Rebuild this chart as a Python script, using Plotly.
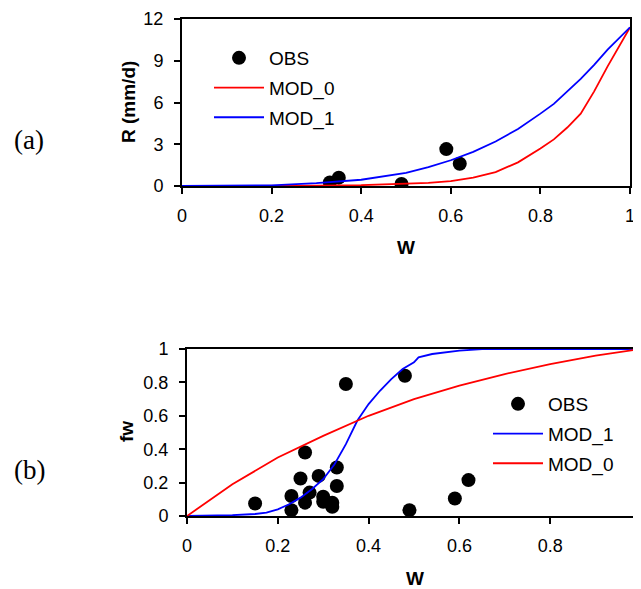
import plotly.graph_objects as go

# ---- data: panel (a) ----
a_obs_w = [0.33, 0.35, 0.49, 0.59, 0.62]
a_obs_r = [0.25, 0.6, 0.15, 2.65, 1.6]
a_mod_w = [0, 0.1, 0.2, 0.3, 0.4, 0.5, 0.55, 0.6, 0.65, 0.7, 0.75, 0.8, 0.83, 0.86, 0.89, 0.92, 0.95, 1.0]
a_mod0_r = [0, 0, 0.005, 0.02, 0.06, 0.15, 0.23, 0.35, 0.6, 1.0, 1.7, 2.7, 3.35, 4.2, 5.2, 6.8, 8.6, 11.4]
a_mod1_r = [0, 0.01, 0.05, 0.2, 0.45, 0.95, 1.35, 1.85, 2.45, 3.2, 4.1, 5.2, 5.9, 6.8, 7.7, 8.7, 9.8, 11.4]

# ---- data: panel (b) ----
b_obs_w = [0.15, 0.23, 0.23, 0.25, 0.26, 0.26, 0.27, 0.29, 0.30, 0.30, 0.32, 0.32, 0.33, 0.33, 0.35, 0.48, 0.49, 0.59, 0.62]
b_obs_f = [0.075, 0.12, 0.035, 0.225, 0.38, 0.08, 0.14, 0.24, 0.115, 0.085, 0.08, 0.055, 0.29, 0.18, 0.79, 0.84, 0.035, 0.105, 0.215]
b_mod1_w = [0, 0.1, 0.15, 0.175, 0.2, 0.225, 0.25, 0.275, 0.3, 0.325, 0.35, 0.375, 0.4, 0.425, 0.45, 0.475, 0.5, 0.51, 0.54, 0.6, 0.65, 1.0]
b_mod1_f = [0, 0.005, 0.012, 0.02, 0.04, 0.07, 0.11, 0.16, 0.22, 0.31, 0.43, 0.57, 0.67, 0.75, 0.82, 0.88, 0.92, 0.95, 0.97, 0.99, 1.0, 1.0]
b_mod0_w = [0, 0.1, 0.2, 0.3, 0.4, 0.5, 0.6, 0.7, 0.8, 0.9, 1.0]
b_mod0_f = [0, 0.19, 0.35, 0.48, 0.6, 0.7, 0.78, 0.85, 0.91, 0.96, 1.0]

a_yticks = [0, 3, 6, 9, 12]
w_ticks = [0, 0.2, 0.4, 0.6, 0.8, 1]
w_ticktext = ["0", "0.2", "0.4", "0.6", "0.8", "1"]
fw_ticks = [0, 0.2, 0.4, 0.6, 0.8, 1]
fw_ticktext = ["0", "0.2", "0.4", "0.6", "0.8", "1"]

# page is 641x589; the HTML body has an 8px default margin
OFF = 8
W, H = 641 - OFF, 589 - OFF
def px_x(p): return (p - OFF) / W
def px_y(p): return 1 - (p - OFF) / H

fig = go.Figure()
mk = dict(color="black", size=14)
lw = 1.8
fig.add_trace(go.Scatter(x=a_obs_w, y=a_obs_r, mode="markers", marker=mk, name="OBS", xaxis="x", yaxis="y", legend="legend", legendgroup="a1"))
fig.add_trace(go.Scatter(x=a_mod_w, y=a_mod0_r, mode="lines", line=dict(color="red", width=lw), name="MOD_0", xaxis="x", yaxis="y", legend="legend", legendgroup="a2"))
fig.add_trace(go.Scatter(x=a_mod_w, y=a_mod1_r, mode="lines", line=dict(color="blue", width=lw), name="MOD_1", xaxis="x", yaxis="y", legend="legend", legendgroup="a3"))

fig.add_trace(go.Scatter(x=b_obs_w, y=b_obs_f, mode="markers", marker=mk, name="OBS", xaxis="x2", yaxis="y2", legend="legend2", legendgroup="b1"))
fig.add_trace(go.Scatter(x=b_mod1_w, y=b_mod1_f, mode="lines", line=dict(color="blue", width=lw), name="MOD_1", xaxis="x2", yaxis="y2", legend="legend2", legendgroup="b2"))
fig.add_trace(go.Scatter(x=b_mod0_w, y=b_mod0_f, mode="lines", line=dict(color="red", width=lw), name="MOD_0", xaxis="x2", yaxis="y2", legend="legend2", legendgroup="b3"))

sans = "Liberation Sans, Arial"
tickfont = dict(family=sans, size=18, color="black")
titlefont = dict(family=sans, size=19, color="black")
legfont = dict(family=sans, size=19, color="black")
common = dict(showline=True, linecolor="black", linewidth=2, ticks="outside",
              ticklen=6, tickwidth=1.5, tickcolor="black", showgrid=False, zeroline=False,
              tickfont=tickfont, automargin=False)

fig.update_layout(
    width=W, height=H, margin=dict(l=0, r=0, t=0, b=0),
    plot_bgcolor="white", paper_bgcolor="white",
    xaxis=dict(domain=[px_x(182), px_x(630)], range=[0, 1], tickvals=w_ticks, ticktext=w_ticktext,
               anchor="y", mirror=True, ticklabelstandoff=6, **common),
    yaxis=dict(domain=[px_y(186), px_y(19)], range=[0, 12], tickvals=a_yticks, anchor="x",
               mirror=True, ticklabelstandoff=7, **common),
    xaxis2=dict(domain=[px_x(187), 1.0], range=[0, 1], tickvals=w_ticks, ticktext=w_ticktext,
                anchor="y2", mirror=True, ticklabelstandoff=6, ticklabeloverflow="allow", **common),
    yaxis2=dict(domain=[px_y(516), px_y(349)], range=[0, 1], tickvals=fw_ticks, ticktext=fw_ticktext,
                anchor="x2", mirror=False, ticklabelstandoff=7, **common),
    legend=dict(x=px_x(209), y=px_y(39), xanchor="left", yanchor="top", bgcolor="rgba(0,0,0,0)",
                font=legfont, traceorder="grouped", itemwidth=50, tracegroupgap=2),
    legend2=dict(x=px_x(488), y=px_y(385), xanchor="left", yanchor="top", bgcolor="rgba(0,0,0,0)",
                 font=legfont, traceorder="grouped", itemwidth=50, tracegroupgap=2),
    showlegend=True,
)

def ann(text, x, y, font, angle=0):
    fig.add_annotation(text=text, x=px_x(x), y=px_y(y), xref="paper", yref="paper",
                       xanchor="center", yanchor="middle", showarrow=False, font=font, textangle=angle)

ann("<b>R (mm/d)</b>", 129, 102, titlefont, -90)
ann("<b>W</b>", 406, 247, titlefont)
ann("<b>fw</b>", 126, 432, titlefont, -90)
ann("<b>W</b>", 415, 578, titlefont)

serif = dict(family="Liberation Serif, Times New Roman", size=27, color="black")
ann("(a)", 29, 140, serif)
ann("(b)", 29, 470, serif)

fig.write_html("out.html")
